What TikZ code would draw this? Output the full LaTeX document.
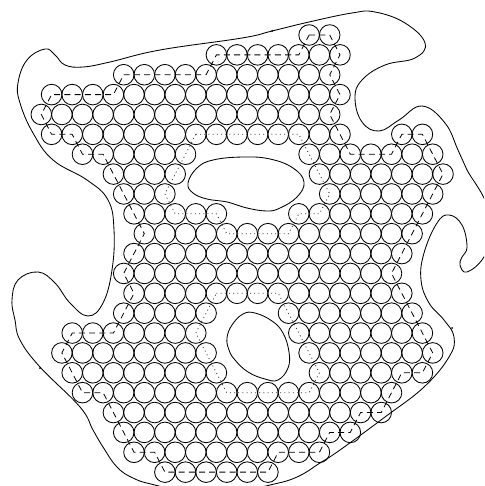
\documentclass[tikz,border=0pt]{standalone}
\tikzset{
  cell/.style={circle,draw=black,line width=0.85pt,minimum size=20.6pt,inner sep=0pt,outer sep=0pt},
  rim/.style={line width=0.85pt,black},
  boundary/.style={line width=0.8pt,dash pattern=on 6pt off 4.2pt,black},
  holeline/.style={line width=0.8pt,dash pattern=on 1pt off 3.2pt,black!80},
  knot/.style={circle,fill=black,inner sep=0pt,minimum size=2pt}
}
\begin{document}
\begin{tikzpicture}[x=1pt,y=-1pt]
\useasboundingbox (0,0) rectangle (484,486);
\clip (0,0) rectangle (484,486);
\foreach \r/\a/\b in {0/26/28,1/17/29,2/8/28,3/1/29,4/0/28,5/1/29,5/35/37,6/4/14,6/26/38,7/7/13,7/27/39,8/8/12,8/28/38,9/9/17,9/25/37,10/10/36,11/9/35,12/8/34,13/9/35,14/8/16,14/24/36,15/3/15,15/25/37,16/2/16,16/26/38,17/3/17,17/27/37,18/4/34,19/7/33,20/8/30,21/9/27,22/12/22}{
  \pgfmathtruncatemacro{\nxt}{\a+2}
  \foreach \c in {\a,\nxt,...,\b}{
    \node[cell] (n\r-\c) at ({41.3+10.3*\c},{35+19.87*\r}) {};
  }
}
% outer rim
\draw[rim] plot[smooth cycle,tension=0.7] coordinates {
(242,38)(272,31)(309,22)(352,13)(375,12)(405,23)(425,43)(415,58)(385,65)(362,80)(355,98)(362,122)(379,131)(399,120)(422,106)(445,123)(458,150)(467,170)(484,198)(495,228)(484,257)(467,272)(460,265)(462,257)(467,247)(462,225)(449,215)(437,223)(424,253)(421,280)(429,303)(444,320)(454,337)(449,357)(424,387)(385,417)(340,450)(320,463)(297,477)(270,485)(212,497)(155,485)(133,478)(117,467)(103,447)(93,430)(80,407)(40,367)(20,340)(15,320)(12,300)(18,280)(38,272)(55,283)(70,303)(88,316)(103,303)(112,270)(114,230)(108,200)(87,180)(53,160)(33,133)(20,103)(18,83)(27,60)(45,49)(55,55)(65,65)(83,67)(110,62)(160,50)};
% holes
\draw[rim] plot[smooth cycle,tension=0.7] coordinates {
(188,183)(197,168)(213,160)(243,157)(270,159)(293,168)(304,182)(297,197)(280,208)(267,211)(247,208)(227,202)(207,199)(193,193)};
\draw[rim] plot[smooth cycle,tension=0.7] coordinates {
(227,338)(232,325)(243,314)(255,313)(272,321)(283,333)(289,352)(288,368)(278,380)(265,379)(248,372)(235,360)(229,350)};
\node[knot] (k1) at (272,31) {};
\node[knot] (k2) at (40,368) {};
\node[knot] (k3) at (452,328) {};
% boundary chain
\draw[boundary] (n0-26.center)
\foreach \p in {0-28,1-29,2-28,3-29,4-28,5-29,6-30,6-34,5-35,5-37,6-38,7-39,8-38,9-37,10-36,11-35,12-34,13-35,14-36,15-37,16-38,17-37,17-35,18-34,19-33,19-31,20-30,20-28,21-27,21-23,22-22,22-12,21-11,21-9,20-8,19-7,18-6,18-4,17-3,16-2,15-3,15-7,14-8,13-9,12-8,11-9,10-10,9-9,8-8,7-7,6-6,6-4,5-3,5-1,4-0,3-1,3-7,2-8,2-16,1-17,1-25,0-26}{ -- (n\p.center)};
% hole chains
\draw[holeline] (n5-15.center)
\foreach \p in {5-25,6-26,7-27,8-28,9-27,9-25,10-24,10-18,9-17,9-13,8-12,7-13,6-14,5-15}{ -- (n\p.center)};
\draw[holeline] (n13-17.center)
\foreach \p in {13-23,14-24,15-25,16-26,17-27,18-26,18-18,17-17,16-16,15-15,14-16,13-17}{ -- (n\p.center)};
\end{tikzpicture}
\end{document}
